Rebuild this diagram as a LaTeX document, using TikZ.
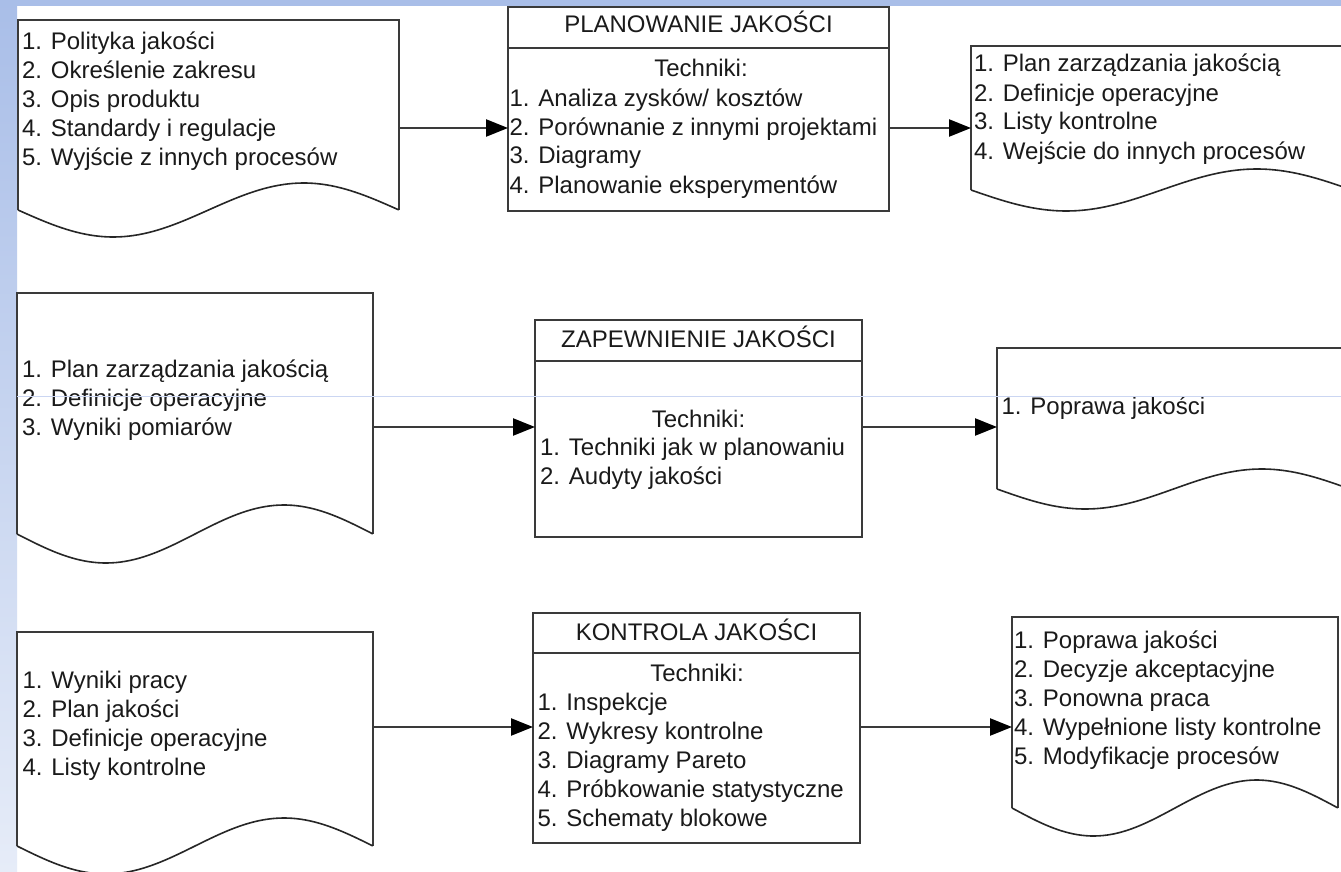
\documentclass[tikz,border=0pt]{standalone}
\usepackage{fontspec}
\setmainfont{Liberation Sans}
\usetikzlibrary{arrows.meta}
\definecolor{lineg}{HTML}{3A3A3A}
\definecolor{txt}{HTML}{1A1A1A}
\definecolor{bgtop}{HTML}{A9BEE8}
\definecolor{bgbot}{HTML}{E6ECF8}
\definecolor{faint}{HTML}{CBD6F2}
\tikzset{
  shapeline/.style={draw=lineg, line width=2.2pt, line join=miter},
  waveline/.style={draw=black!85, line width=1.6pt},
  frame/.style={shapeline, inner sep=0pt, outer sep=0pt, anchor=north west},
  docframe/.style={inner sep=0pt, outer sep=0pt, anchor=north west},
  txtnode/.style={inner sep=0pt, outer sep=0pt, text=txt, font=\fontsize{24}{29}\selectfont, align=left, anchor=base west},
  titlenode/.style={inner sep=0pt, outer sep=0pt, text=txt, font=\fontsize{24}{29}\selectfont, anchor=base},
  flow/.style={draw=lineg, line width=2.4pt, -{Triangle[length=22pt,width=17pt,color=black,fill=black]}},
}
% name, L, T, R, B, amplitude
\newcommand\docshape[6]{%
  \node[docframe, minimum width={#4pt-#2pt}, minimum height={#5pt-#3pt}] (#1) at (#2,#3) {};
  \draw[shapeline] (#1.south east) -- (#1.north east) -- (#1.north west) -- (#1.south west);
  \draw[waveline] plot[domain=0:1, samples=80] ({#2+(#4-#2)*\x},{#5+#6*sin(360*\x)});
}
% name, L, T, R, divider, B
\newcommand\procbox[6]{%
  \node[frame, minimum width={#4pt-#2pt}, minimum height={#6pt-#3pt}] (#1) at (#2,#3) {};
  \coordinate (#1div) at (0,#5);
  \draw[shapeline] (#1.west |- #1div) -- (#1.east |- #1div);
}
\begin{document}
\begin{tikzpicture}[x=1pt,y=-1pt]
\useasboundingbox (0,0) rectangle (1341,872);
\clip (0,0) rectangle (1341,872);
\fill[white] (0,0) rectangle (1341,872);
\shade[top color=bgtop, bottom color=bgbot] (0,0) rectangle (17,872);
\fill[bgtop] (0,0) rectangle (1341,6);

% Row 1 (text nodes are anchored at the baseline of their last line)
\docshape{d1}{18}{20}{399}{210}{27}
\procbox{b1}{508}{7}{889}{48}{211}
\docshape{d2}{971}{46}{1352}{190}{21}
\node[txtnode] (d1t) at (22,165) {1. Polityka jakości\\2. Określenie zakresu\\3. Opis produktu\\4. Standardy i regulacje\\5. Wyjście z innych procesów};
\node[titlenode] (b1h) at (698.5,33) {PLANOWANIE JAKOŚCI};
\node[titlenode] (b1s) at (701,77) {Techniki:};
\node[txtnode] (b1t) at (509.5,193) {1. Analiza zysków/ kosztów\\2. Porównanie z innymi projektami\\3. Diagramy\\4. Planowanie eksperymentów};
\node[txtnode] (d2t) at (974,159) {1. Plan zarządzania jakością\\2. Definicje operacyjne\\3. Listy kontrolne\\4. Wejście do innych procesów};
\coordinate (y1) at (0,128);
\draw[flow] (d1.east |- y1) -- (b1.west |- y1);
\draw[flow] (b1.east |- y1) -- (d2.west |- y1);

% Row 2
\docshape{d3}{17}{293}{373}{534}{29}
\procbox{b2}{535}{320}{862}{361}{537}
\docshape{d4}{997}{348}{1350}{489}{20}
\node[txtnode] (d3t) at (22,435) {1. Plan zarządzania jakością\\2. Definicje operacyjne\\3. Wyniki pomiarów};
\node[titlenode] (b2h) at (698.5,347) {ZAPEWNIENIE JAKOŚCI};
\node[titlenode] (b2s) at (698.5,427) {Techniki:};
\node[txtnode] (b2t) at (540,484) {1. Techniki jak w planowaniu\\2. Audyty jakości};
\node[txtnode] (d4t) at (1001.5,414) {1. Poprawa jakości};
\coordinate (y2) at (0,427);
\draw[flow] (d3.east |- y2) -- (b2.west |- y2);
\draw[flow] (b2.east |- y2) -- (d4.west |- y2);

% Row 3
\docshape{d5}{17}{632}{373}{846}{28}
\procbox{b3}{533}{613}{860}{653}{843}
\docshape{d6}{1012}{617}{1338}{808}{28}
\node[txtnode] (d5t) at (22.5,775) {1. Wyniki pracy\\2. Plan jakości\\3. Definicje operacyjne\\4. Listy kontrolne};
\node[titlenode] (b3h) at (696.5,640) {KONTROLA JAKOŚCI};
\node[titlenode] (b3s) at (697,681) {Techniki:};
\node[txtnode] (b3t) at (537.5,826) {1. Inspekcje\\2. Wykresy kontrolne\\3. Diagramy Pareto\\4. Próbkowanie statystyczne\\5. Schematy blokowe};
\node[txtnode] (d6t) at (1014,764) {1. Poprawa jakości\\2. Decyzje akceptacyjne\\3. Ponowna praca\\4. Wypełnione listy kontrolne\\5. Modyfikacje procesów};
\coordinate (y3) at (0,727);
\draw[flow] (d5.east |- y3) -- (b3.west |- y3);
\draw[flow] (b3.east |- y3) -- (d6.west |- y3);

% faint guide line
\draw[faint, line width=0.8pt] (17,396) -- (1341,396);
\end{tikzpicture}
\end{document}
